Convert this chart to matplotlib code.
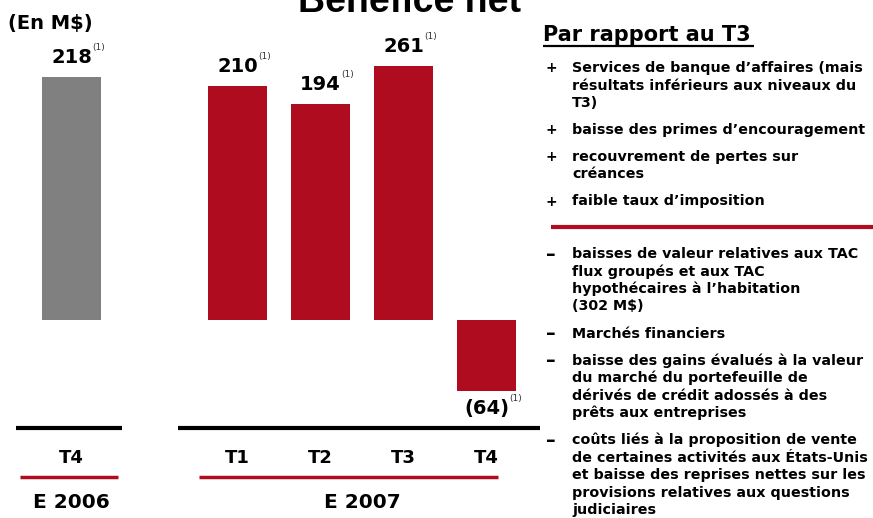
import matplotlib.pyplot as plt
from matplotlib.transforms import blended_transform_factory

# data
periods = ["T4", "T1", "T2", "T3", "T4"]
slots = [0, 2, 3, 4, 5]
net_income = [218, 210, 194, 261, -64]
value_labels = ["218", "210", "194", "261", "(64)"]
years = ["E 2006", "E 2007"]
year_slots = [0, 3.5]

plus_items = [
    ["Services de banque d\u2019affaires (mais", "résultats inférieurs aux niveaux du", "T3)"],
    ["baisse des primes d\u2019encouragement"],
    ["recouvrement de pertes sur", "créances"],
    ["faible taux d\u2019imposition"],
]
minus_items = [
    ["baisses de valeur relatives aux TAC", "flux groupés et aux TAC", "hypothécaires à l\u2019habitation", "(302 M$)"],
    ["Marchés financiers"],
    ["baisse des gains évalués à la valeur", "du marché du portefeuille de", "dérivés de crédit adossés à des", "prêts aux entreprises"],
    ["coûts liés à la proposition de vente", "de certaines activités aux États-Unis", "et baisse des reprises nettes sur les", "provisions relatives aux questions", "judiciaires"],
]

RED = "#AF0C1F"
GRAY = "#808080"
W, H = 873, 518

fig = plt.figure(figsize=(W / 100, H / 100), dpi=100)

# overlay in pixel coordinates for the decorations
ov = fig.add_axes([0, 0, 1, 1])
ov.set_xlim(0, W)
ov.set_ylim(H, 0)
ov.axis("off")

# bar axes: zero line at y=320 px, 1.114 px per M$, slot step 83 px
px_per = 1.114
top_px = 66
ax = fig.add_axes([0, 0, 540 / W, (H - top_px) / H])
ax.set_xlim(-71.5 / 83, (540 - 71.5) / 83)
ax.set_ylim(-(H - 320) / px_per, (320 - top_px) / px_per)
ax.axis("off")

colors = [GRAY] + [RED] * 4
ax.bar(slots, net_income, width=0.71, color=colors, zorder=2)

renderer = fig.canvas.get_renderer()
ytop = ax.get_ylim()[1]
for x, v, lab in zip(slots, net_income, value_labels):
    if v >= 0:
        t = ax.annotate(lab, (x, min(v, ytop)), xytext=(0, 10), textcoords="offset points",
                        ha="center", va="baseline", fontsize=14, fontweight="bold", annotation_clip=False)
        sup_dy = 21
    else:
        t = ax.annotate(lab, (x, v), xytext=(0, -16), textcoords="offset points",
                        ha="center", va="baseline", fontsize=14, fontweight="bold", annotation_clip=False)
        sup_dy = -5
    w = t.get_window_extent(renderer).width * 72 / fig.dpi
    ax.annotate("(1)", (x, min(v, ytop)), xytext=(w / 2 + 0.3, sup_dy), textcoords="offset points",
                ha="left", va="center", fontsize=6.5, color="#333333", annotation_clip=False)

# category labels and separator lines
tr = blended_transform_factory(ax.transData, ov.transData)
for x, p in zip(slots, periods):
    ov.text(x, 458, p, transform=tr, ha="center", va="center", fontsize=13, fontweight="bold")
for x, y in zip(year_slots, years):
    ov.text(x, 503, y, transform=tr, ha="center", va="center", fontsize=14.5, fontweight="bold")

ov.plot([16, 122], [428, 428], color="black", lw=3, solid_capstyle="butt")
ov.plot([178, 540], [428, 428], color="black", lw=3, solid_capstyle="butt")
ov.plot([20, 118], [477, 477], color=RED, lw=2.5, solid_capstyle="butt")
ov.plot([199, 498], [477, 477], color=RED, lw=2.5, solid_capstyle="butt")

# titles (the main title is cut by the top edge, as in the slide)
ov.text(409, 12, "Bénéfice net", ha="center", va="baseline", fontsize=27,
        fontweight="bold", family="Liberation Sans")
ov.text(8, 23, "(En M$)", ha="left", va="center", fontsize=14, fontweight="bold")

# right-hand commentary
ov.text(543, 41, "Par rapport au T3", ha="left", va="baseline", fontsize=15, fontweight="bold")
ov.plot([543, 754], [45.5, 45.5], color="black", lw=1.6, solid_capstyle="butt")

step, gap = 17.5, 27


def bullets(items, mark, size, y):
    for lines in items:
        ov.text(551, y, mark, ha="center", va="center", fontsize=size, fontweight="bold")
        for i, line in enumerate(lines):
            ov.text(572, y + i * step, line, ha="left", va="center", fontsize=10.3, fontweight="bold")
        y += (len(lines) - 1) * step + gap
    return y


bullets(plus_items, "+", 10, 68)
ov.plot([551, W], [227, 227], color=RED, lw=3, solid_capstyle="butt")
bullets(minus_items, "\u2013", 14, 254)

fig.savefig("out.png", dpi=100)
